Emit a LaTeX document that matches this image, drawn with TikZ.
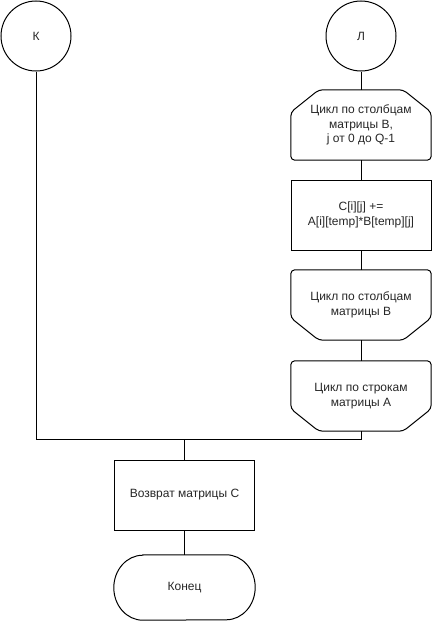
\documentclass[tikz,border=0pt]{standalone}
\usepackage{fontspec}
\setmainfont{Liberation Sans}
\begin{document}
\begin{tikzpicture}[x=1pt,y=1pt,
  every node/.style={font=\fontsize{12}{14.4}\selectfont, text=black!85, align=center},
  conn/.style={draw=black, line width=1pt},
  onpage/.style={circle, draw=black, line width=1pt, minimum size=70pt, inner sep=0pt},
  procbox/.style={rectangle, draw=black, line width=1pt, minimum width=140pt, minimum height=70pt, inner sep=0pt},
  loopbox/.style={rectangle, minimum width=140pt, minimum height=70pt, inner sep=0pt},
  loopline/.style={draw=black, line width=1pt, rounded corners=4pt, line join=round},
  termbox/.style={rectangle, minimum width=141pt, minimum height=65pt, inner sep=0pt}
]
\useasboundingbox (0,0) rectangle (432,-621);

% connectors on page
\node[onpage] (K) at (36,-36) {К};
\node[onpage] (L) at (361,-36) {Л};

% loop start (top chamfered)
\node[loopbox] (b1) at (361,-125) {Цикл по столбцам\\матрицы B,\\j от 0 до Q-1};
\draw[loopline] ([xshift=28pt]b1.north west) -- ([xshift=-28pt]b1.north east)
  -- ([yshift=-22.4pt]b1.north east) -- (b1.south east) -- (b1.south west)
  -- ([yshift=-22.4pt]b1.north west) -- cycle;

% process
\node[procbox] (b2) at (361,-215) {C[i][j] +=\\A[i][temp]*B[temp][j]};

% loop end B (bottom chamfered)
\node[loopbox] (b3) at (361,-305) {Цикл по столбцам\\матрицы B};
\draw[loopline] (b3.north west) -- (b3.north east)
  -- ([yshift=22.4pt]b3.south east) -- ([xshift=-28pt]b3.south east)
  -- ([xshift=28pt]b3.south west) -- ([yshift=22.4pt]b3.south west) -- cycle;

% loop end A
\node[loopbox] (b4) at (361,-396) {Цикл по строкам\\матрицы А};
\draw[loopline] (b4.north west) -- (b4.north east)
  -- ([yshift=22.4pt]b4.south east) -- ([xshift=-28pt]b4.south east)
  -- ([xshift=28pt]b4.south west) -- ([yshift=22.4pt]b4.south west) -- cycle;

% return
\node[procbox] (ret) at (184.5,-495) {Возврат матрицы С};

% terminator
\node[termbox] (end) at (184.5,-587.5) {Конец};
\draw[conn] ([xshift=29pt]end.north west) -- ([xshift=-29pt]end.north east)
  arc[start angle=90, end angle=-90, x radius=29pt, y radius=32.5pt]
  -- ([xshift=29pt]end.south west)
  arc[start angle=270, end angle=90, x radius=29pt, y radius=32.5pt] -- cycle;

% junction
\coordinate (jK) at (K.south |- 0,-439);
\coordinate (jR) at (b4.south |- 0,-439);
\coordinate (jM) at (ret.north |- 0,-439);

\draw[conn] (L.south) -- (b1.north);
\draw[conn] (b1.south) -- (b2.north);
\draw[conn] (b2.south) -- (b3.north);
\draw[conn] (b3.south) -- (b4.north);
\draw[conn] (K.south) -- (jK) -- (jR) -- (b4.south);
\draw[conn] (jM) -- (ret.north);
\draw[conn] (ret.south) -- (end.north);
\end{tikzpicture}
\end{document}
